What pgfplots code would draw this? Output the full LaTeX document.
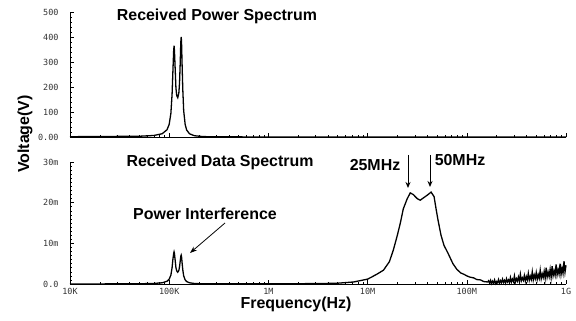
\documentclass[border=0pt]{standalone}
\usepackage{pgfplots}
\pgfplotsset{compat=1.18}
\usetikzlibrary{arrows.meta}
\usepackage{fontspec}
\setmainfont{Liberation Sans}
\newfontfamily\tickfont{DejaVu Sans Mono}
\begin{document}
\begin{tikzpicture}
\useasboundingbox (0bp,0bp) rectangle (576bp,321bp);
\pgfplotsset{
  spec/.style={
    scale only axis,
    width=496bp,
    xmin=4, xmax=9,
    axis x line=bottom, axis y line=left,
    axis line style={-, line width=0.8pt},
    tick align=inside,
    major tick length=4bp, minor tick length=2bp,
    xtick={4,5,6,7,8,9},
    minor xtick={4.301,4.477,4.602,4.699,4.778,4.845,4.903,4.954,
                 5.301,5.477,5.602,5.699,5.778,5.845,5.903,5.954,
                 6.301,6.477,6.602,6.699,6.778,6.845,6.903,6.954,
                 7.301,7.477,7.602,7.699,7.778,7.845,7.903,7.954,
                 8.301,8.477,8.602,8.699,8.778,8.845,8.903,8.954},
    tick style={black, line width=0.5pt},
    ticklabel style={font=\tickfont\fontsize{8.5}{9}\selectfont, text=black!80},
    yticklabel style={xshift=-8bp},
    xticklabel style={yshift=-1bp},
    clip=false,
  }
}
% Top: received power spectrum
\begin{axis}[spec,
  at={(70bp,184bp)}, anchor=south west,
  height=125bp,
  ymin=0, ymax=500,
  ytick={0,100,200,300,400,500},
  yticklabels={0.00,100,200,300,400,500},
  minor y tick num=4,
  xticklabels={},
]
\addplot[black, line width=1.3pt] coordinates {
(4.000,1.2) (4.699,3.0) (4.845,6.1) (4.929,13) (4.978,29) (5.000,51)
(5.017,95) (5.029,171) (5.037,260) (5.045,345) (5.049,365) (5.053,345)
(5.061,265) (5.068,195) (5.076,165) (5.086,157) (5.097,175) (5.104,215)
(5.111,295) (5.117,380) (5.121,400) (5.124,385) (5.130,290) (5.137,190)
(5.146,105) (5.161,50) (5.176,28) (5.204,13) (5.255,5) (5.342,1.6)
(5.477,0.7) (6.000,0.1) (9.000,0)
};
\end{axis}
% Bottom: received data spectrum
\begin{axis}[spec,
  at={(70bp,37bp)}, anchor=south west,
  height=122bp,
  ymin=0, ymax=30,
  ytick={0,10,20,30},
  yticklabels={0.0,10m,20m,30m},
  minor y tick num=9,
  xticklabels={10K,100K,1M,10M,100M,1G},
]
\addplot[black, line width=1.3pt] coordinates {
(4.000,0) (4.700,0.05) (4.850,0.15) (4.930,0.3) (4.980,0.7) (5.000,1.2)
(5.017,2.2) (5.029,4.0) (5.037,6.0) (5.045,7.5) (5.049,7.9) (5.053,7.5)
(5.061,5.6) (5.068,4.0) (5.076,3.2) (5.086,2.9) (5.097,3.3) (5.104,4.2)
(5.111,5.6) (5.117,6.8) (5.121,7.1) (5.124,6.8) (5.130,5.2) (5.137,3.5)
(5.146,2.0) (5.161,1.0) (5.176,0.6) (5.204,0.3) (5.255,0.12) (5.342,0.05)
(5.500,0.03) (6.000,0.05) (6.500,0.1) (6.700,0.2) (6.860,0.5) (7.000,1.2)
(7.040,1.7) (7.100,2.5) (7.160,3.4) (7.220,5.5) (7.260,8.4) (7.300,12)
(7.330,15) (7.360,18.5) (7.400,21) (7.430,22.4) (7.460,22.0) (7.500,21.0)
(7.530,20.6) (7.570,21.3) (7.610,22.0) (7.640,22.6) (7.670,21.5) (7.690,18.5)
(7.710,15.7) (7.740,12.0) (7.770,9.5) (7.810,7.6) (7.860,5.0) (7.900,3.6)
(7.940,2.7) (7.970,2.4) (8.000,2.0) (8.030,1.7) (8.070,1.5) (8.100,1.1)
(8.140,1.0) (8.170,0.6) (8.210,0.5)
(8.22,0.8) (8.23,0.2) (8.24,0.9) (8.25,0.1) (8.26,0.7) (8.27,0.2) (8.28,1.0)
(8.29,0.1) (8.30,0.6) (8.31,0.3) (8.32,1.1) (8.33,0.2) (8.34,0.8) (8.35,0.3)
(8.36,1.2) (8.37,0.4) (8.38,0.9) (8.39,0.2) (8.40,1.3) (8.41,0.5) (8.42,1.0)
(8.43,0.3) (8.44,1.6) (8.45,0.5) (8.46,1.2) (8.47,0.6) (8.48,2.0) (8.49,0.5)
(8.50,1.3) (8.51,0.7) (8.52,1.7) (8.53,0.6) (8.54,2.4) (8.55,0.8) (8.56,1.5)
(8.57,0.9) (8.58,2.1) (8.59,0.7) (8.60,1.8) (8.61,1.0) (8.62,2.6) (8.63,0.9)
(8.64,1.9) (8.65,1.1) (8.66,3.0) (8.67,1.0) (8.68,2.2) (8.69,1.3) (8.70,2.8)
(8.71,1.1) (8.72,2.3) (8.73,1.4) (8.74,3.4) (8.75,1.3) (8.76,2.5) (8.77,1.6)
(8.78,3.1) (8.79,1.4) (8.80,4.0) (8.81,1.7) (8.82,2.9) (8.83,1.8) (8.84,3.6)
(8.85,1.6) (8.86,4.4) (8.87,2.0) (8.88,3.2) (8.89,2.1) (8.90,4.8) (8.91,2.2)
(8.92,3.5) (8.93,2.4) (8.94,5.0) (8.95,2.3) (8.96,3.9) (8.97,2.6) (8.98,5.6)
(8.99,2.9) (9.00,4.6)
};
\end{axis}
% Texts
\begin{scope}[every node/.style={font=\bfseries\fontsize{16}{18}\selectfont, inner sep=0pt}]
\node at (217bp,305bp) {Received Power Spectrum};
\node at (220bp,159bp) {Received Data Spectrum};
\node at (205bp,107bp) {Power Interference};
\node at (375bp,156bp) {25MHz};
\node at (460bp,161bp) {50MHz};
\node[rotate=90] at (25bp,187bp) {Voltage(V)};
\node at (296bp,17bp) {Frequency(Hz)};
\end{scope}
\draw[-{Stealth[length=6bp,width=5bp]}, line width=1pt] (408bp,166bp) -- (408bp,133bp);
\draw[-{Stealth[length=6bp,width=5bp]}, line width=1pt] (430bp,166bp) -- (430bp,134bp);
\draw[-{Stealth[length=7bp,width=5bp]}, line width=0.8pt] (225bp,98bp) -- (190bp,68bp);
\end{tikzpicture}
\end{document}
